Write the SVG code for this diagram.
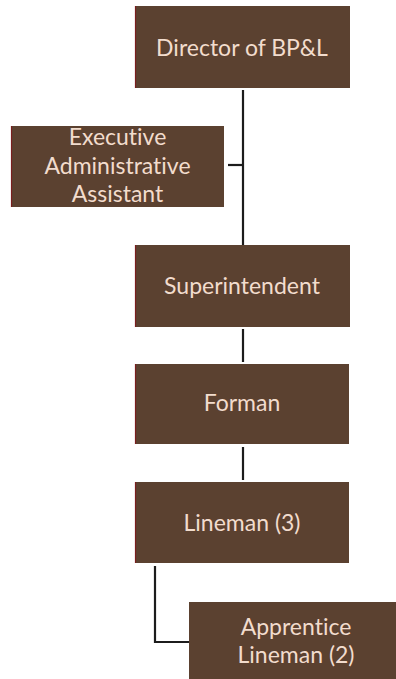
<svg xmlns="http://www.w3.org/2000/svg" width="396" height="679" viewBox="0 0 396 679">
<style>
.box{fill:#5b4130;}
.edge{stroke:#7a1e1e;stroke-width:1.2;}
.lbl{font-family:Lato,"Open Sans","Liberation Sans",sans-serif;font-size:23px;fill:#f2dccd;text-anchor:middle;font-variant-ligatures:none;}
.conn{stroke:#1c1c1c;stroke-width:2.2;fill:none;}
</style>
<rect width="396" height="679" fill="#ffffff"/>
<g id="connectors">
<line class="conn" x1="243" y1="90" x2="243" y2="245"/>
<line class="conn" x1="228" y1="165" x2="243" y2="165"/>
<line class="conn" x1="243" y1="329" x2="243" y2="362"/>
<line class="conn" x1="243" y1="447" x2="243" y2="480"/>
<polyline class="conn" points="155,566 155,642 189,642"/>
</g>
<g id="director">
<rect class="box" x="135" y="6" width="215" height="82"/>
<line class="edge" x1="135.5" y1="6" x2="135.5" y2="88"/>
<text class="lbl" x="242" y="56">Director of BP&amp;L</text>
</g>
<g id="exec-assistant">
<rect class="box" x="11" y="126" width="213" height="81"/>
<line class="edge" x1="11.5" y1="126" x2="11.5" y2="207"/>
<text class="lbl" x="117.5" y="145">Executive</text>
<text class="lbl" x="117.5" y="174">Administrative</text>
<text class="lbl" x="117.5" y="202">Assistant</text>
</g>
<g id="superintendent">
<rect class="box" x="135" y="245" width="215" height="82"/>
<line class="edge" x1="135.5" y1="245" x2="135.5" y2="327"/>
<text class="lbl" x="242" y="294">Superintendent</text>
</g>
<g id="forman">
<rect class="box" x="135" y="364" width="214" height="80"/>
<line class="edge" x1="135.5" y1="364" x2="135.5" y2="444"/>
<text class="lbl" x="242" y="411">Forman</text>
</g>
<g id="lineman">
<rect class="box" x="135" y="482" width="214" height="81"/>
<line class="edge" x1="135.5" y1="482" x2="135.5" y2="563"/>
<text class="lbl" x="242" y="531">Lineman (3)</text>
</g>
<g id="apprentice">
<rect class="box" x="189" y="602" width="214" height="82"/>
<text class="lbl" x="296" y="635">Apprentice</text>
<text class="lbl" x="296" y="663">Lineman (2)</text>
</g>
</svg>
